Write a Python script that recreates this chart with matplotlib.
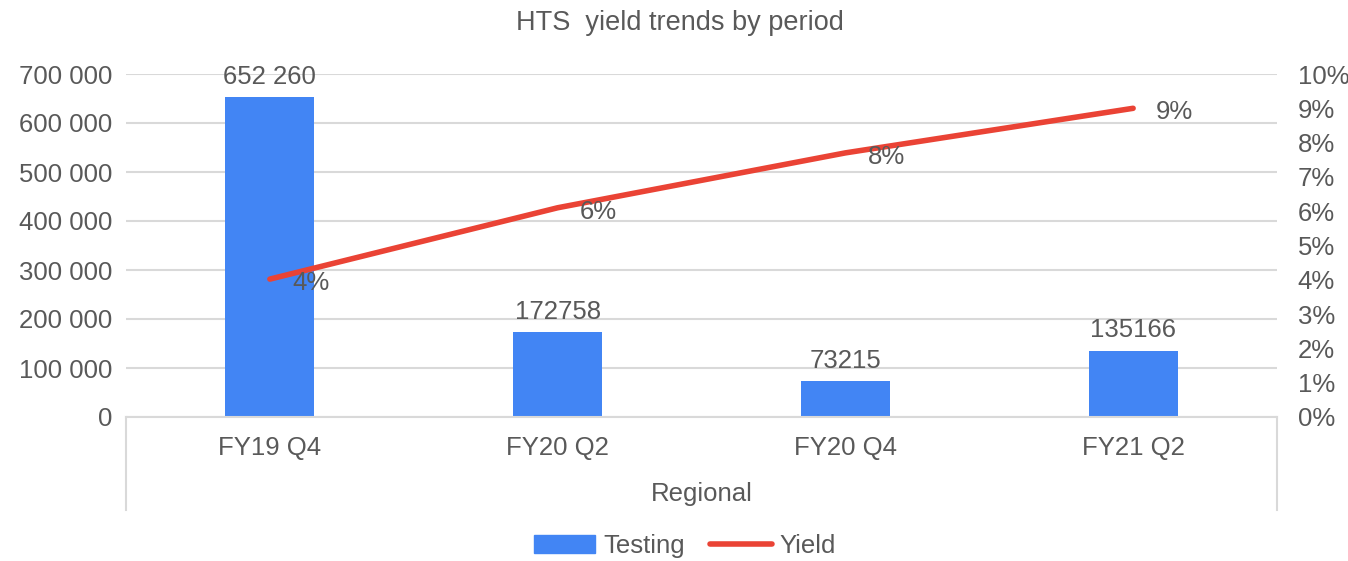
import matplotlib
matplotlib.use("Agg")
import matplotlib.pyplot as plt
from matplotlib.lines import Line2D
from matplotlib.patches import Patch
import matplotlib.ticker as mticker

categories = ["FY19 Q4", "FY20 Q2", "FY20 Q4", "FY21 Q2"]
testing = [652260, 172758, 73215, 135166]
testing_labels = ["652 260", "172758", "73215", "135166"]
yield_vals = [0.0402, 0.061, 0.077, 0.090]
yield_labels = ["4%", "6%", "8%", "9%"]
left_ticks = [0, 100000, 200000, 300000, 400000, 500000, 600000, 700000]
left_tick_labels = ["0", "100 000", "200 000", "300 000", "400 000", "500 000", "600 000", "700 000"]
right_ticks = [i / 100 for i in range(11)]

plt.rcParams['font.family'] = ['Liberation Sans', 'DejaVu Sans']
TXT = "#595959"
GRID = "#d9d9d9"
BLUE = "#4285F4"
RED = "#EA4335"
FS = 18.5

fig = plt.figure(figsize=(13.48, 5.61), dpi=100)
ax = fig.add_axes([126/1348, 1 - 417/561, (1277-126)/1348, (417-74)/561])
ax2 = ax.twinx()

x = list(range(len(categories)))
ax.bar(x, testing, width=0.31, color=BLUE, zorder=2)
for xi, v, lab in zip(x, testing, testing_labels):
    ax.annotate(lab, (xi, v), xytext=(0, 6), textcoords="offset points",
                ha="center", va="bottom", fontsize=FS, color=TXT)

ax.set_xlim(-0.5, len(categories) - 0.5)
ax.set_ylim(0, 700000)
ax.set_yticks(left_ticks)
ax.set_yticklabels(left_tick_labels)
ax.set_xticks(x)
ax.set_xticklabels(categories)
ax.tick_params(axis="both", length=0, labelsize=FS, labelcolor=TXT)
ax.tick_params(axis="x", pad=14)
ax.tick_params(axis="y", pad=10)
ax.grid(axis="y", color=GRID, lw=1.5, zorder=0)
ax.set_axisbelow(True)
for s in ["top", "right", "left"]:
    ax.spines[s].set_visible(False)
ax.spines["bottom"].set_color(GRID)
ax.spines["bottom"].set_linewidth(1.5)

# category box lines
ext = -(510 - 417) / (417 - 74)
for xa in (0, 1):
    ax.add_line(Line2D([xa, xa], [0, ext], transform=ax.transAxes, color=GRID,
                       lw=1.5, clip_on=False))
ax.text(0.5, -(494 - 417) / (417 - 74), "Regional", transform=ax.transAxes,
        ha="center", va="center", fontsize=FS, color=TXT)

ax2.plot(x, yield_vals, color=RED, lw=4, solid_capstyle="round", zorder=3)
for xi, v, lab in zip(x, yield_vals, yield_labels):
    ax2.annotate(lab, (xi, v), xytext=(16, -3), textcoords="offset points",
                 ha="left", va="center", fontsize=FS, color=TXT)
ax2.set_ylim(0, 0.10)
ax2.set_yticks(right_ticks)
ax2.yaxis.set_major_formatter(mticker.FuncFormatter(lambda v, p: f"{round(v*100)}%"))
ax2.tick_params(axis="y", length=0, labelsize=FS, labelcolor=TXT, pad=15)
for s in ax2.spines.values():
    s.set_visible(False)

fig.text(680/1348, 1 - 23/561, "HTS  yield trends by period", ha="center", va="center",
         fontsize=19.5, color=TXT)

handles = [Patch(color=BLUE, label="Testing"),
           Line2D([0], [0], color=RED, lw=4, solid_capstyle="round", label="Yield")]
fig.legend(handles=handles, loc="center", bbox_to_anchor=(685/1348, 1 - 546/561),
           ncol=2, frameon=False, fontsize=FS, labelcolor=TXT,
           handlelength=2.4, handletextpad=0.3, columnspacing=1.0)

fig.savefig("out.png", dpi=100)
